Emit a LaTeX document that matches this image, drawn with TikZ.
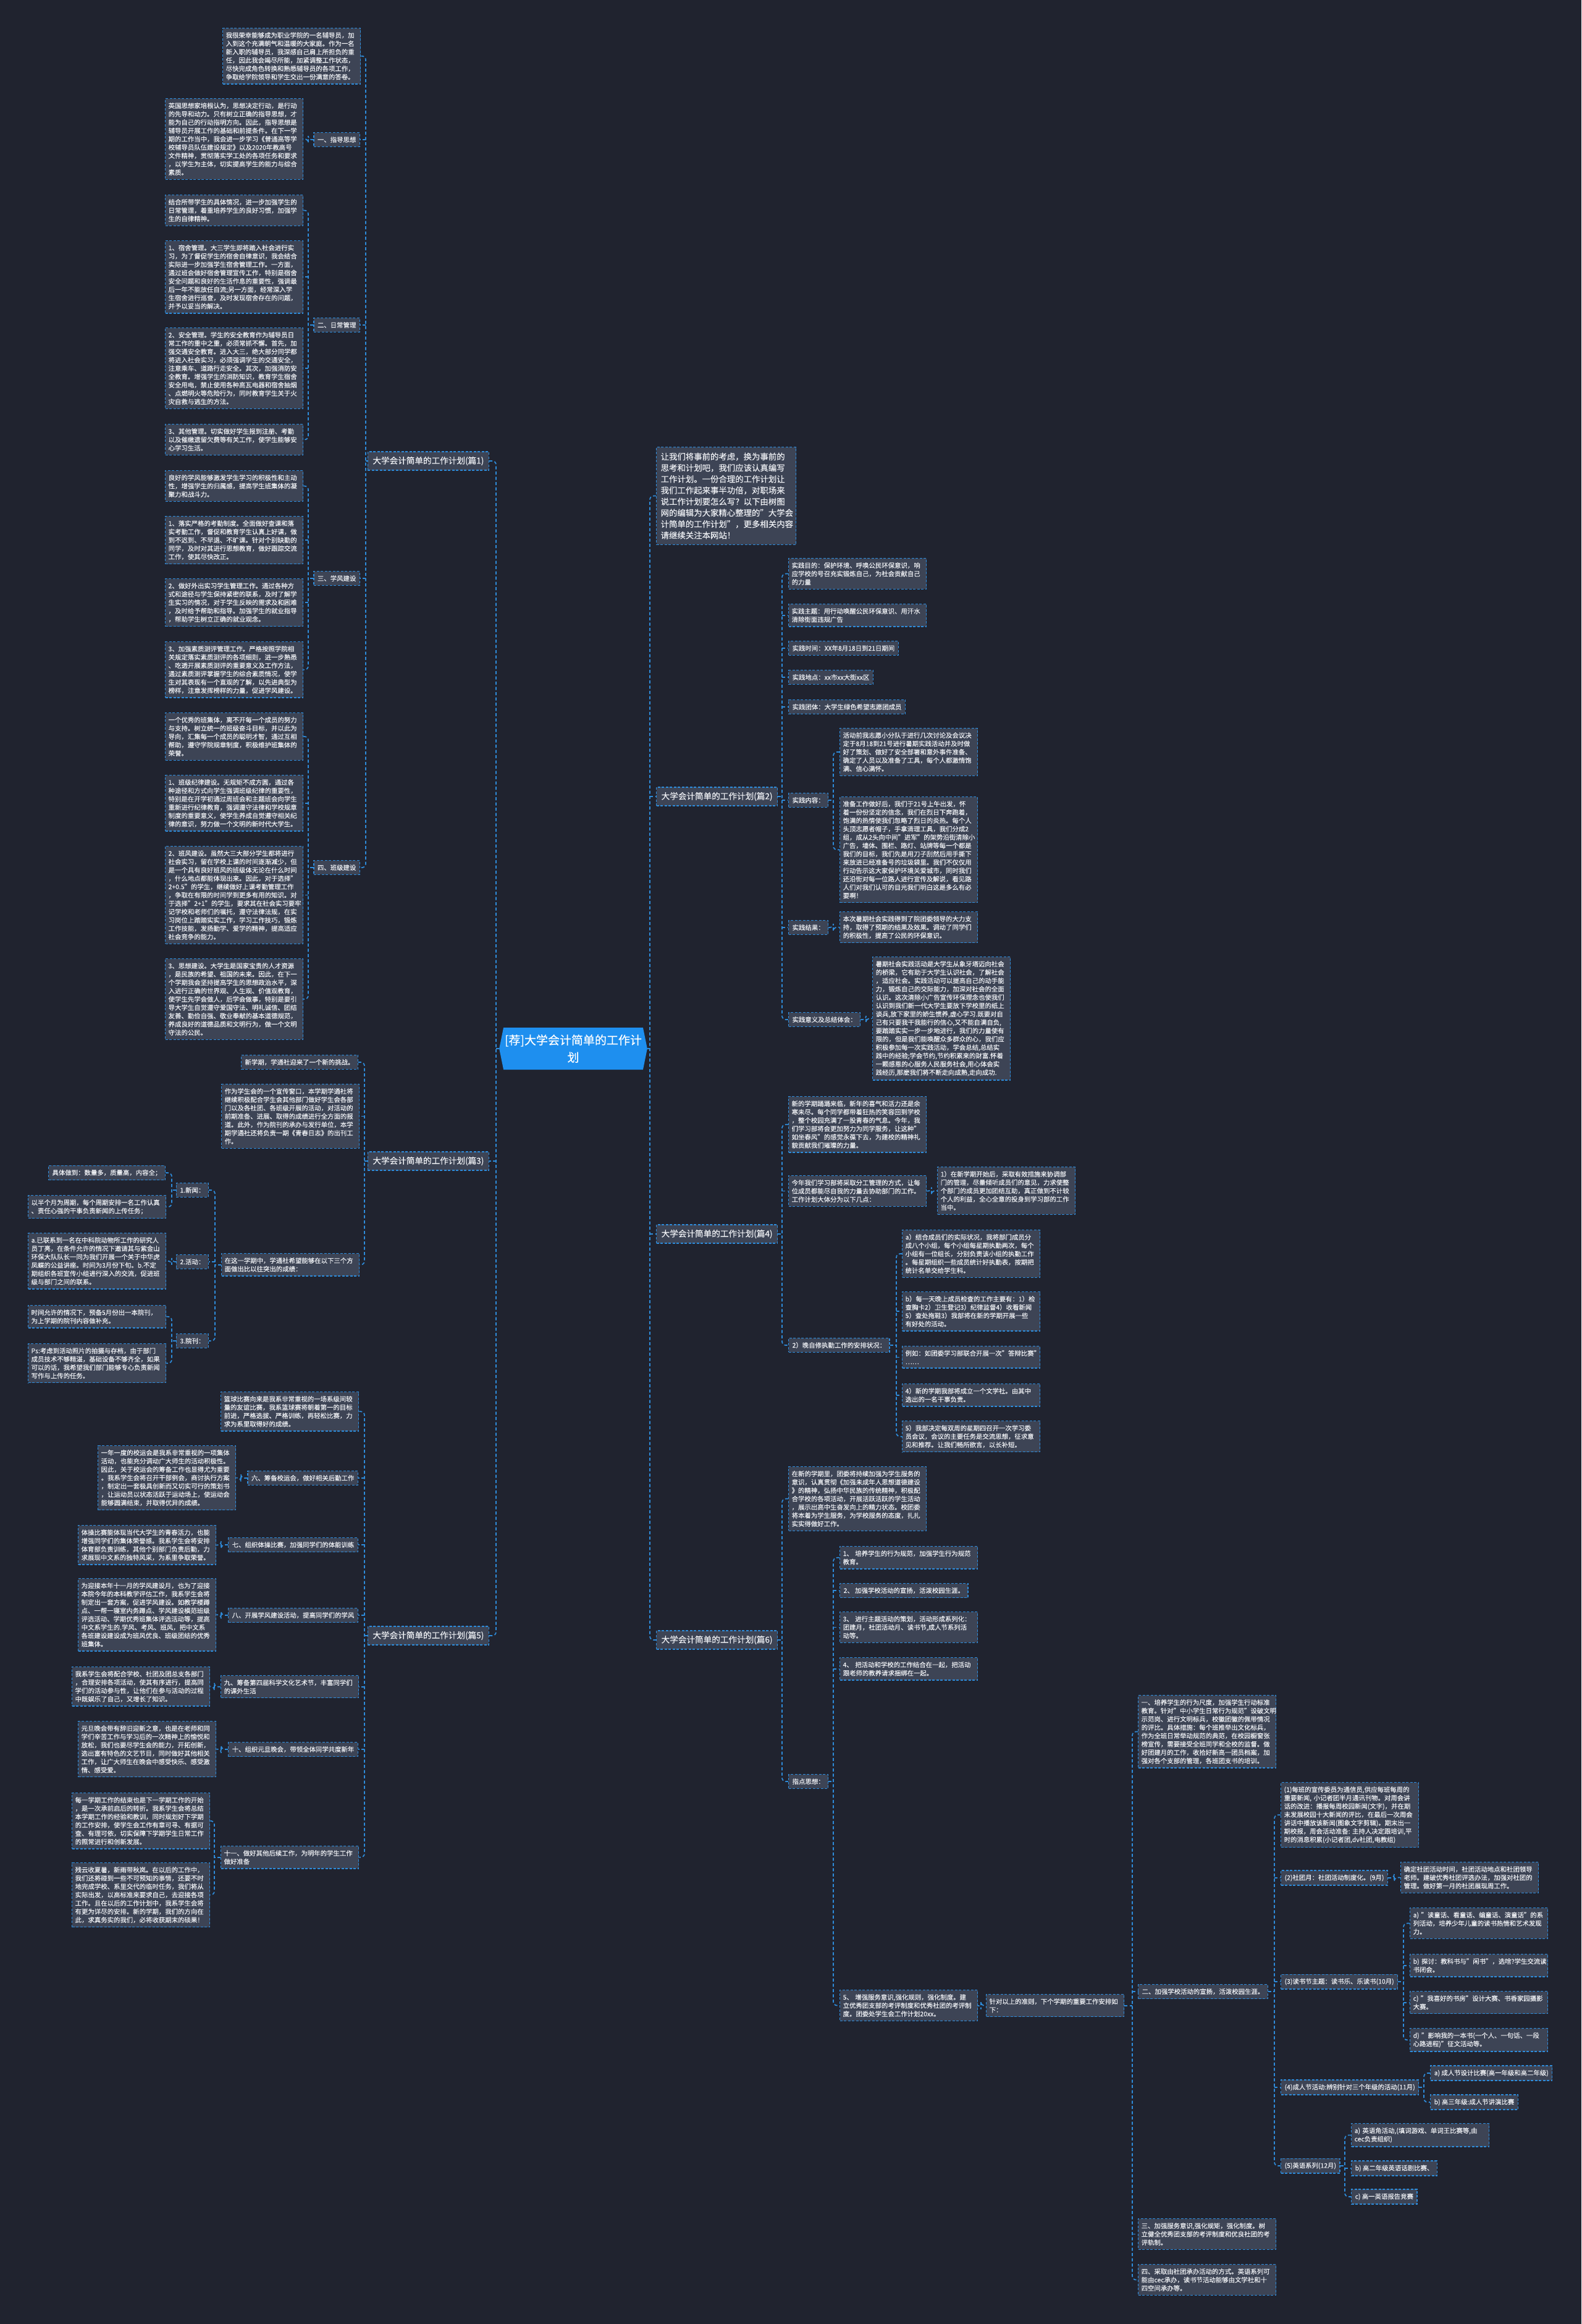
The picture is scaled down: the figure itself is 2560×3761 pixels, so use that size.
\documentclass[tikz,border=0pt]{standalone}
\usepackage{fontspec}
\setmainfont{Noto Sans CJK SC}[FakeBold=0.4]
\usetikzlibrary{shapes.symbols}
\definecolor{bg}{HTML}{20232F}
\definecolor{nodefill}{HTML}{3D4455}
\definecolor{edge}{HTML}{2E8CDB}
\definecolor{txt}{HTML}{EDEFF3}
\definecolor{rootfill}{HTML}{1E8FEF}
\tikzset{
 conn/.style={draw=edge, line width=1.7pt, dash pattern=on 5pt off 3.5pt, rounded corners=6pt},
 base/.style={draw=edge, fill=nodefill, line width=1.3pt, dash pattern=on 4pt off 2.5pt, text=txt, font=\fontsize{10.4}{13.5}\selectfont},
 box/.style={base, align=left, text width=213pt, inner xsep=5pt, inner ysep=6.5pt, anchor=north west},
 lbl/.style={base, inner xsep=6pt, inner ysep=6.5pt},
 branch/.style={base, font=\fontsize{13.6}{17}\selectfont, inner xsep=8pt, inner ysep=8pt},
 introbox/.style={base, font=\fontsize{13.4}{18.2}\selectfont, align=left, text width=212pt, inner xsep=7pt, inner ysep=9pt, anchor=north west},
 rootnode/.style={signal, signal to=west and east, signal pointer angle=157, fill=rootfill, text=white, font=\fontsize{19}{28}\selectfont, align=center, minimum width=230pt, minimum height=68pt, inner sep=2pt},
}
\newcommand\trR[4]{\coordinate (tk) at (#2,0);
 \draw[conn] (#1.east) -- (#1.east -| tk);
 \draw[conn] (#3.west) -- (#3.west -| tk) -- (#4.west -| tk) -- (#4.west);}
\newcommand\stR[2]{\coordinate (tk) at (#1,0); \draw[conn] (#2.west -| tk) -- (#2.west);}
\newcommand\oneR[3]{\coordinate (tk) at (#2,0); \draw[conn] (#1.east) -- (#1.east -| tk) |- (#3.west);}
\newcommand\trL[4]{\coordinate (tk) at (#2,0);
 \draw[conn] (#1.west) -- (#1.west -| tk);
 \draw[conn] (#3.east) -- (#3.east -| tk) -- (#4.east -| tk) -- (#4.east);}
\newcommand\stL[2]{\coordinate (tk) at (#1,0); \draw[conn] (#2.east -| tk) -- (#2.east);}
\newcommand\oneL[3]{\coordinate (tk) at (#2,0); \draw[conn] (#1.west) -- (#1.west -| tk) |- (#3.east);}
\begin{document}
\begin{tikzpicture}[x=1pt,y=-1pt]
\fill[bg] (0,0) rectangle (2560,3761);
\useasboundingbox (0,0) rectangle (2560,3761);

% root
\node[rootnode] (root) at (928,1697) {[荐]大学会计简单的工作计\\划};

% branches
\node[branch, anchor=east] (b1) at (792,746) {大学会计简单的工作计划(篇1)};
\node[branch, anchor=east] (b3) at (792,1879) {大学会计简单的工作计划(篇3)};
\node[branch, anchor=east] (b5) at (792,2647) {大学会计简单的工作计划(篇5)};
\node[branch, anchor=west] (b2) at (1062,1289) {大学会计简单的工作计划(篇2)};
\node[branch, anchor=west] (b4) at (1062,1997) {大学会计简单的工作计划(篇4)};
\node[branch, anchor=west] (b6) at (1062,2654) {大学会计简单的工作计划(篇6)};
\node[introbox] (intro) at (1062,723) {让我们将事前的考虑，换为事前的\\思考和计划吧，我们应该认真编写\\工作计划。一份合理的工作计划让\\我们工作起来事半功倍，对职场来\\说工作计划要怎么写？以下由树图\\网的编辑为大家精心整理的"大学会\\计简单的工作计划"，更多相关内容\\请继续关注本网站！};

\trL{root}{803}{b1}{b5}\stL{803}{b3}
\trR{root}{1052}{intro}{b6}\stR{1052}{b2}\stR{1052}{b4}

% ===== 篇1 =====
\node[box] (n1a) at (360,45) {我很荣幸能够成为职业学院的一名辅导员，加\\入到这个充满朝气和温暖的大家庭。作为一名\\新入职的辅导员，我深感自己肩上所担负的重\\任，因此我会竭尽所能，加紧调整工作状态，\\尽快完成角色转换和熟悉辅导员的各项工作，\\争取给学院领导和学生交出一份满意的答卷。};
\node[lbl, anchor=east] (l1) at (583,226) {一、指导思想};
\node[lbl, anchor=east] (l2) at (583,526) {二、日常管理};
\node[lbl, anchor=east] (l3) at (583,936) {三、学风建设};
\node[lbl, anchor=east] (l4) at (583,1404) {四、班级建设};
\trL{b1}{592}{n1a}{l4}\stL{592}{l1}\stL{592}{l2}\stL{592}{l3}

\node[box] (t11) at (267,159) {英国思想家培根认为，思想决定行动，是行动\\的先导和动力。只有树立正确的指导思想，才\\能为自己的行动指明方向。因此，指导思想是\\辅导员开展工作的基础和前提条件。在下一学\\期的工作当中，我会进一步学习《普通高等学\\校辅导员队伍建设规定》以及2020年教高号\\文件精神，贯彻落实学工处的各项任务和要求\\，以学生为主体，切实提高学生的能力与综合\\素质。};
\oneL{l1}{499}{t11}

\node[box] (t21) at (267,315) {结合所带学生的具体情况，进一步加强学生的\\日常管理，着重培养学生的良好习惯，加强学\\生的自律精神。};
\node[box] (t22) at (267,389) {1、宿舍管理。大三学生即将踏入社会进行实\\习，为了督促学生的宿舍自律意识，我会结合\\实际进一步加强学生宿舍管理工作。一方面，\\通过班会做好宿舍管理宣传工作，特别是宿舍\\安全问题和良好的生活作息的重要性，强调最\\后一年不能放任自流;另一方面，经常深入学\\生宿舍进行巡查，及时发现宿舍存在的问题，\\并予以妥当的解决。};
\node[box] (t23) at (267,530) {2、安全管理。学生的安全教育作为辅导员日\\常工作的重中之重，必须常抓不懈。首先，加\\强交通安全教育。进入大三，绝大部分同学都\\将进入社会实习，必须强调学生的交通安全，\\注意乘车、道路行走安全。其次，加强消防安\\全教育。增强学生的消防知识，教育学生宿舍\\安全用电，禁止使用各种高瓦电器和宿舍抽烟\\、点燃明火等危险行为，同时教育学生关于火\\灾自救与逃生的方法。};
\node[box] (t24) at (267,686) {3、其他管理。切实做好学生报到注册、考勤\\以及催缴遗留欠费等有关工作，使学生能够安\\心学习生活。};
\trL{l2}{499}{t21}{t24}\stL{499}{t22}\stL{499}{t23}

\node[box] (t31) at (267,761) {良好的学风能够激发学生学习的积极性和主动\\性，增强学生的归属感，提高学生班集体的凝\\聚力和战斗力。};
\node[box] (t32) at (267,835) {1、落实严格的考勤制度。全面做好查课和落\\实考勤工作，督促和教育学生认真上好课，做\\到不迟到、不早退、不旷课。针对个别缺勤的\\同学，及时对其进行思想教育，做好跟踪交流\\工作，使其尽快改正。};
\node[box] (t33) at (267,936) {2、做好外出实习学生管理工作。通过各种方\\式和途径与学生保持紧密的联系，及时了解学\\生实习的情况，对于学生反映的需求及和困难\\，及时给予帮助和指导。加强学生的就业指导\\，帮助学生树立正确的就业观念。};
\node[box] (t34) at (267,1038) {3、加强素质测评管理工作。严格按照学院相\\关规定落实素质测评的各项细则，进一步熟悉\\、吃透开展素质测评的重要意义及工作方法，\\通过素质测评掌握学生的综合素质情况，使学\\生对其表现有一个直观的了解，以先进典型为\\榜样，注意发挥榜样的力量，促进学风建设。};
\trL{l3}{499}{t31}{t34}\stL{499}{t32}\stL{499}{t33}

\node[box] (t41) at (267,1153) {一个优秀的班集体，离不开每一个成员的努力\\与支持。树立统一的班级奋斗目标，并以此为\\导向，汇集每一个成员的聪明才智，通过互相\\帮助，遵守学院规章制度，积极维护班集体的\\荣誉。};
\node[box] (t42) at (267,1254) {1、班级纪律建设。无规矩不成方圆，通过各\\种途径和方式向学生强调班级纪律的重要性，\\特别是在开学初通过周班会和主题班会向学生\\重新进行纪律教育，强调遵守法律和学校规章\\制度的重要意义，使学生养成自觉遵守相关纪\\律的意识，努力做一个文明的新时代大学生。};
\node[box] (t43) at (267,1369) {2、班风建设。虽然大三大部分学生都将进行\\社会实习，留在学校上课的时间逐渐减少，但\\是一个具有良好班风的班级体无论在什么时间\\，什么地点都能体现出来。因此，对于选择"\\2+0.5"的学生，继续做好上课考勤管理工作\\，争取在有限的时间学到更多有用的知识。对\\于选择"2+1"的学生，要求其在社会实习要牢\\记学校和老师们的嘱托，遵守法律法规，在实\\习岗位上踏踏实实工作，学习工作技巧，锻炼\\工作技能，发扬勤学、爱学的精神，提高适应\\社会竞争的能力。};
\node[box] (t44) at (267,1551) {3、思想建设。大学生是国家宝贵的人才资源\\，是民族的希望、祖国的未来。因此，在下一\\个学期我会坚持提高学生的思想政治水平，深\\入进行正确的世界观、人生观、价值观教育，\\使学生先学会做人，后学会做事，特别是要引\\导大学生自觉遵守爱国守法、明礼诚信、团结\\友善、勤俭自强、敬业奉献的基本道德规范，\\养成良好的道德品质和文明行为，做一个文明\\守法的公民。};
\trL{l4}{499}{t41}{t44}\stL{499}{t42}\stL{499}{t43}

% ===== 篇3 =====
\node[lbl, anchor=east] (c31) at (580,1719) {新学期，学通社迎来了一个新的挑战。};
\node[box] (c32) at (358,1754) {作为学生会的一个宣传窗口，本学期学通社将\\继续积极配合学生会其他部门做好学生会各部\\门以及各社团、各班级开展的活动，对活动的\\前期准备、进展、取得的成绩进行全方面的报\\道。此外，作为院刊的承办与发行单位，本学\\期学通社还将负责一期《青春日志》的出刊工\\作。};
\node[box] (c33) at (358,2028) {在这一学期中，学通社希望能够在以下三个方\\面做出比以往突出的成绩：};
\trL{b3}{590}{c31}{c33}\stL{590}{c32}

\node[lbl, anchor=east] (s1) at (338,1926) {1.新闻：};
\node[lbl, anchor=east] (s2) at (338,2042) {2.活动：};
\node[lbl, anchor=east] (s3) at (338,2170) {3.院刊：};
\trL{c33}{348}{s1}{s3}\stL{348}{s2}

\node[lbl, anchor=east] (s11) at (268,1898) {具体做到：数量多，质量高，内容全；};
\node[box] (s12) at (45,1934) {以半个月为周期，每个周期安排一名工作认真\\、责任心强的干事负责新闻的上传任务；};
\trL{s1}{278}{s11}{s12}
\node[box] (s21) at (45,1995) {a.已联系到一名在中科院动物所工作的研究人\\员丁亮，在条件允许的情况下邀请其与紫金山\\环保大队队长一同为我们开展一个关于中华虎\\凤蝶的公益讲座。时间为3月份下旬。b.不定\\期组织各班宣传小组进行深入的交流，促进班\\级与部门之间的联系。};
\oneL{s2}{278}{s21}
\node[box] (s31) at (45,2112) {时间允许的情况下，预备5月份出一本院刊，\\为上学期的院刊内容做补充。};
\node[box] (s32) at (45,2174) {Ps:考虑到活动照片的拍摄与存档，由于部门\\成员技术不够精湛，基础设备不够齐全，如果\\可以的话，我希望我们部门能够专心负责新闻\\写作与上传的任务。};
\trL{s3}{278}{s31}{s32}

% ===== 篇5 =====
\node[box] (c51) at (357,2252) {篮球比赛向来是我系非常重视的一场系级间较\\量的友谊比赛，我系篮球赛将朝着第一的目标\\前进，严格选拔、严格训练，再轻松比赛，力\\求为系里取得好的成绩。};
\node[lbl, anchor=east] (c52) at (580,2392) {六、筹备校运会，做好相关后勤工作};
\node[lbl, anchor=east] (c53) at (580,2500) {七、组织体操比赛，加强同学们的体能训练};
\node[lbl, anchor=east] (c54) at (580,2614) {八、开展学风建设活动，提高同学们的学风};
\node[box] (c55) at (357,2711) {九、筹备第四届科学文化艺术节，丰富同学们\\的课外生活};
\node[lbl, anchor=east] (c56) at (580,2831) {十、组织元旦晚会，带领全体同学共度新年};
\node[box] (c57) at (357,2987) {十一、做好其他后续工作，为明年的学生工作\\做好准备};
\trL{b5}{590}{c51}{c57}\stL{590}{c52}\stL{590}{c53}\stL{590}{c54}\stL{590}{c55}\stL{590}{c56}

\node[box] (d52) at (158,2339) {一年一度的校运会是我系非常重视的一项集体\\活动，也能充分调动广大师生的活动积极性。\\因此，关于校运会的筹备工作也显得尤为重要\\。我系学生会将召开干部例会，商讨执行方案\\，制定出一套极具创新而又切实可行的策划书\\，让运动员以状态活跃于运动场上，使运动会\\能够圆满结束，并取得优异的成绩。};
\oneL{c52}{390}{d52}
\node[box] (d53) at (126,2468) {体操比赛能体现当代大学生的青春活力，也能\\增强同学们的集体荣誉感。我系学生会将安排\\体育部负责训练，其他个别部门负责后勤，力\\求展现中文系的独特风采，为系里争取荣誉。};
\oneL{c53}{358}{d53}
\node[box] (d54) at (126,2554) {为迎接本年十一月的学风建设月，也为了迎接\\本院今年的本科教学评估工作，我系学生会将\\制定出一套方案，促进学风建设。如教学楼蹲\\点、一帮一寝室内务蹲点、学风建设模范班级\\评选活动、学期优秀班集体评选活动等，提高\\中文系学生的.学风、考风、班风，把中文系\\各班建设建设成为班风优良、班级团结的优秀\\班集体。};
\oneL{c54}{358}{d54}
\node[box] (d55) at (116,2697) {我系学生会将配合学校、社团及团总支各部门\\，合理安排各项活动，使其有序进行，提高同\\学们的活动参与性，让他们在参与活动的过程\\中既娱乐了自己，又增长了知识。};
\oneL{c55}{347}{d55}
\node[box] (d56) at (126,2785) {元旦晚会带有辞旧迎新之意，也是在老师和同\\学们辛苦工作与学习后的一次精神上的愉悦和\\放松，我们也要尽学生会的能力，开拓创新，\\选出富有特色的文艺节目，同时做好其他相关\\工作，让广大师生在晚会中感受快乐、感受激\\情、感受爱。};
\oneL{c56}{358}{d56}
\node[box] (d57a) at (116,2901) {每一学期工作的结束也是下一学期工作的开始\\，是一次承前启后的转折。我系学生会将总结\\本学期工作的经验和教训，同时规划好下学期\\的工作安排，使学生会工作有章可寻、有据可\\查、有理可依，切实保障下学期学生日常工作\\的照常进行和创新发展。};
\node[box] (d57b) at (116,3014) {残云收夏暑，新雨带秋岚。在以后的工作中，\\我们还将碰到一些不可预知的事情，还要不时\\地完成学校、系里交代的临时任务，我们将从\\实际出发，以高标准来要求自己，去迎接各项\\工作。且在以后的工作计划中，我系学生会将\\有更为详尽的安排。新的学期，我们的方向在\\此，求真务实的我们，必将收获期末的硕果！};
\trL{c57}{347}{d57a}{d57b}

% ===== 篇2 =====
\node[box] (r21) at (1276,903) {实践目的：保护环境、呼唤公民环保意识，响\\应学校的号召充实锻炼自己，为社会贡献自己\\的力量};
\node[box] (r22) at (1276,977) {实践主题：用行动唤醒公民环保意识、用汗水\\清除街面违规广告};
\node[lbl, anchor=west] (r23) at (1276,1049) {实践时间：XX年8月18日到21日期间};
\node[lbl, anchor=west] (r24) at (1276,1096) {实践地点：xx市xx大街xx区};
\node[lbl, anchor=west] (r25) at (1276,1144) {实践团体：大学生绿色希望志愿团成员};
\node[lbl, anchor=west] (r26) at (1276,1295) {实践内容：};
\node[lbl, anchor=west] (r27) at (1276,1501) {实践结果：};
\node[lbl, anchor=west] (r28) at (1276,1650) {实践意义及总结体会：};
\trR{b2}{1266}{r21}{r28}\stR{1266}{r22}\stR{1266}{r23}\stR{1266}{r24}\stR{1266}{r25}\stR{1266}{r26}\stR{1266}{r27}

\node[box] (e1) at (1359,1178) {活动前我志愿小分队于进行几次讨论及会议决\\定于8月18到21号进行暑期实践活动并及时做\\好了策划、做好了安全部署和意外事件准备、\\确定了人员以及准备了工具，每个人都激情饱\\满、信心满怀。};
\node[box] (e2) at (1359,1289) {准备工作做好后，我们于21号上午出发，怀\\着一份份坚定的信念，我们在烈日下奔跑着，\\饱满的热情使我们忽略了烈日的炎热。每个人\\头顶志愿者帽子，手拿清理工具，我们分成2\\组，成从2头向中间"进军"的架势沿街清除小\\广告，墙体、围栏、路灯、站牌等每一个都是\\我们的目标，我们先是用刀子刮然后用手撕下\\来放进已经准备号的垃圾袋里。我们不仅仅用\\行动告示这大家保护环境关爱城市，同时我们\\还沿街对每一位路人进行宣传及解说，看见路\\人们对我们认可的目光我们明白这是多么有必\\要啊！};
\trR{r26}{1349}{e1}{e2}
\node[box] (e3) at (1359,1475) {本次暑期社会实践得到了院团委领导的大力支\\持，取得了预期的结果及效果。调动了同学们\\的积极性，提高了公民的环保意识。};
\oneR{r27}{1349}{e3}
\node[box] (e4) at (1412,1548) {暑期社会实践活动是大学生从象牙塔迈向社会\\的桥梁，它有助于大学生认识社会，了解社会\\，适应社会。实践活动可以提高自己的动手能\\力，锻炼自己的交际能力，加深对社会的全面\\认识。这次清除小广告宣传环保理念也使我们\\认识到我们新一代大学生要放下学校里的纸上\\谈兵,放下家里的娇生惯养,虚心学习.既要对自\\己有只要我干我能行的信心,又不能自满自负,\\要踏踏实实一步一步地进行，我们的力量使有\\限的，但是我们能唤醒众多群众的心，我们应\\积极参加每一次实践活动，学会总结,总结实\\践中的经验;学会节约,节约积累来的财富.怀着\\一颗感恩的心服务人民服务社会,用心体会实\\践经历,那麽我们将不断走向成熟,走向成功.};
\oneR{r28}{1402}{e4}

% ===== 篇4 =====
\node[box] (r41) at (1276,1774) {新的学期踊踊来临，新年的喜气和活力还是余\\寒未尽。每个同学都带着狂热的笑容回到学校\\，整个校园充满了一股青春的气息。今年，我\\们学习部将会更加努力为同学服务，让这种"\\如坐春风"的感觉永葆下去，为建校的精神礼\\貌贡献我们璀璨的力量。};
\node[box] (r42) at (1276,1902) {今年我们学习部将采取分工管理的方式，让每\\位成员都能尽自我的力量去协助部门的工作。\\工作计划大体分为以下几点：};
\node[lbl, anchor=west] (r43) at (1276,2177) {2）晚自修执勤工作的安排状况：};
\trR{b4}{1266}{r41}{r43}\stR{1266}{r42}
\node[box] (f1) at (1517,1888) {1）在新学期开始后，采取有效措施来协调部\\门的管理，尽量倾听成员们的意见，力求使整\\个部门的成员更加团结互助，真正做到不计较\\个人的利益，全心全意的投身到学习部的工作\\当中。};
\oneR{r42}{1508}{f1}
\node[box] (g1) at (1460,1990) {a）结合成员们的实际状况，我将部门成员分\\成八个小组，每个小组每星期执勤两次，每个\\小组有一位组长，分别负责该小组的执勤工作\\。每星期组织一些成员统计好执勤表，按期把\\统计名单交给学生科。};
\node[box] (g2) at (1460,2090) {b）每一天晚上成员检查的工作主要有：1）检\\查胸卡2）卫生登记3）纪律监督4）收看新闻\\5）查处拖鞋3）我部将在新的学期开展一些\\有好处的活动。};
\node[box] (g3) at (1460,2178) {例如：如团委学习部联合开展一次"答辩比赛"\\……};
\node[box] (g4) at (1460,2239) {4）新的学期我部将成立一个文学社。由其中\\选出的一名干事负责。};
\node[box] (g5) at (1460,2299) {5）我部决定每双周的星期四召开一次学习委\\员会议，会议的主要任务是交流思想，征求意\\见和推荐。让我们畅所欲言，以长补短。};
\trR{r43}{1451}{g1}{g5}\stR{1451}{g2}\stR{1451}{g3}\stR{1451}{g4}

% ===== 篇6 =====
\node[box] (r61) at (1276,2373) {在新的学期里，团委将持续加强为学生服务的\\意识，认真贯彻《加强未成年人思想道德建设\\》的精神，弘扬中华民族的传统精神，积极配\\合学校的各项活动，开展活跃活跃的学生活动\\，展示出高中生奋发向上的精力状态。校团委\\将本着为学生服务，为学校服务的态度，扎扎\\实实得做好工作。};
\node[lbl, anchor=west] (r62) at (1276,2883) {指点思想：};
\trR{b6}{1266}{r61}{r62}
\node[box] (h1) at (1359,2502) {1、~培养学生的行为规范，加强学生行为规范\\教育。};
\node[lbl, anchor=west] (h2) at (1359,2574) {2、 加强学校活动的宣扬，活泼校园生涯。};
\node[box] (h3) at (1359,2608) {3、~进行主题活动的策划，活动形成系列化：\\团建月，社团活动月、读书节,成人节系列活\\动等。};
\node[box] (h4) at (1359,2682) {4、~把活动和学校的工作结合在一起，把活动\\跟老师的教养请求捆绑在一起。};
\node[box] (h5) at (1359,3220) {5、~增强服务意识,强化规则，强化制度。建\\立优秀团支部的考评制度和优秀社团的考评制\\度。团委处学生会工作计划20xx。};
\trR{r62}{1349}{h1}{h5}\stR{1349}{h2}\stR{1349}{h3}\stR{1349}{h4}
\node[box] (k0) at (1596,3227) {针对以上的准则，下个学期的重要工作安排如\\下：};
\oneR{h5}{1588}{k0}
\node[box] (k1) at (1842,2743) {一、培养学生的行为尺度，加强学生行动标准\\教育。针对"中小学生日常行为规范"设破文明\\示范岗、进行文明标兵，校徽团徽的佩带情况\\的评比。具体措施：每个班推举出文化标兵，\\作为全班日常举动规范的典范，在校园橱窗张\\榜宣传，需要接受全班同学和全校的监督。做\\好团建月的工作，收拾好新高一团员档案，加\\强对各个支部的管理，各班团支书的培训。};
\node[lbl, anchor=west] (k2) at (1842,3223) {二、加强学校活动的宣扬，活泼校园生涯。};
\node[box] (k3) at (1842,3590) {三、加强服务意识,强化规矩，强化制度。树\\立健全优秀团支部的考评制度和优良社团的考\\评轨制。};
\node[box] (k4) at (1842,3664) {四、采取由社团承办活动的方式。英语系列可\\能由cec承办，读书节活动能够由文学社和十\\四空间承办等。};
\trR{k0}{1833}{k1}{k4}\stR{1833}{k2}\stR{1833}{k3}

\node[box] (m1) at (2073,2884) {(1)每班的宣传委员为通信员,供应每班每周的\\重要新闻,~小记者团半月通讯刊物。对周会讲\\话的改进：播报每周校园新闻(文字)，并在期\\末发展校园十大新闻的评比，在最后一次周会\\讲话中播放该新闻(图象文字剪辑)。期末出一\\期校报，周会活动准备:~主持人决定跟培训,平\\时的消息积累(小记者团,dv社团,电教组)};
\node[lbl, anchor=west] (m2) at (2073,3039) {(2)社团月：社团活动制度化。(9月)};
\node[lbl, anchor=west] (m3) at (2073,3207) {(3)读书节主题：读书乐、乐读书(10月)};
\node[lbl, anchor=west] (m4) at (2073,3378) {(4)成人节活动:辨别针对三个年级的活动(11月)};
\node[lbl, anchor=west] (m5) at (2073,3505) {(5)英语系列(12月)};
\trR{k2}{2063}{m1}{m5}\stR{2063}{m2}\stR{2063}{m3}\stR{2063}{m4}

\node[box] (p1) at (2267,3013) {确定社团活动时间，社团活动地点和社团领导\\老师。建破优秀社团评选办法，加强对社团的\\管理。做好第一月的社团展现周工作。};
\oneR{m2}{2257}{p1}
\node[box] (q1) at (2282,3087) {a)~"读童话、看童话、编童话、演童话"的系\\列活动，培养少年儿童的读书热情和艺术发现\\力。};
\node[box] (q2) at (2282,3162) {b)~探讨：教科书与"闲书"，选啥?学生交流读\\书闭会。};
\node[box] (q3) at (2282,3222) {c)~"我喜好的书房"设计大赛、书香家园摄影\\大赛。};
\node[box] (q4) at (2282,3282) {d)~"影响我的一本书(一个人、一句话、一段\\心路进程)"征文活动等。};
\trR{m3}{2272}{q1}{q4}\stR{2272}{q2}\stR{2272}{q3}
\node[lbl, anchor=west] (u1) at (2315,3355) {a) 成人节设计比赛(高一年级和高二年级)};
\node[lbl, anchor=west] (u2) at (2315,3402) {b) 高三年级:成人节讲演比赛};
\trR{m4}{2305}{u1}{u2}
\node[box] (v1) at (2187,3436) {a)~英语角活动,(填词游戏、单词王比赛等,由\\cec负责组织)};
\node[lbl, anchor=west] (v2) at (2187,3509) {b) 高二年级英语话剧比赛、};
\node[lbl, anchor=west] (v3) at (2187,3555) {c) 高一英语报告竞赛};
\trR{m5}{2177}{v1}{v3}\stR{2177}{v2}
\end{tikzpicture}
\end{document}
